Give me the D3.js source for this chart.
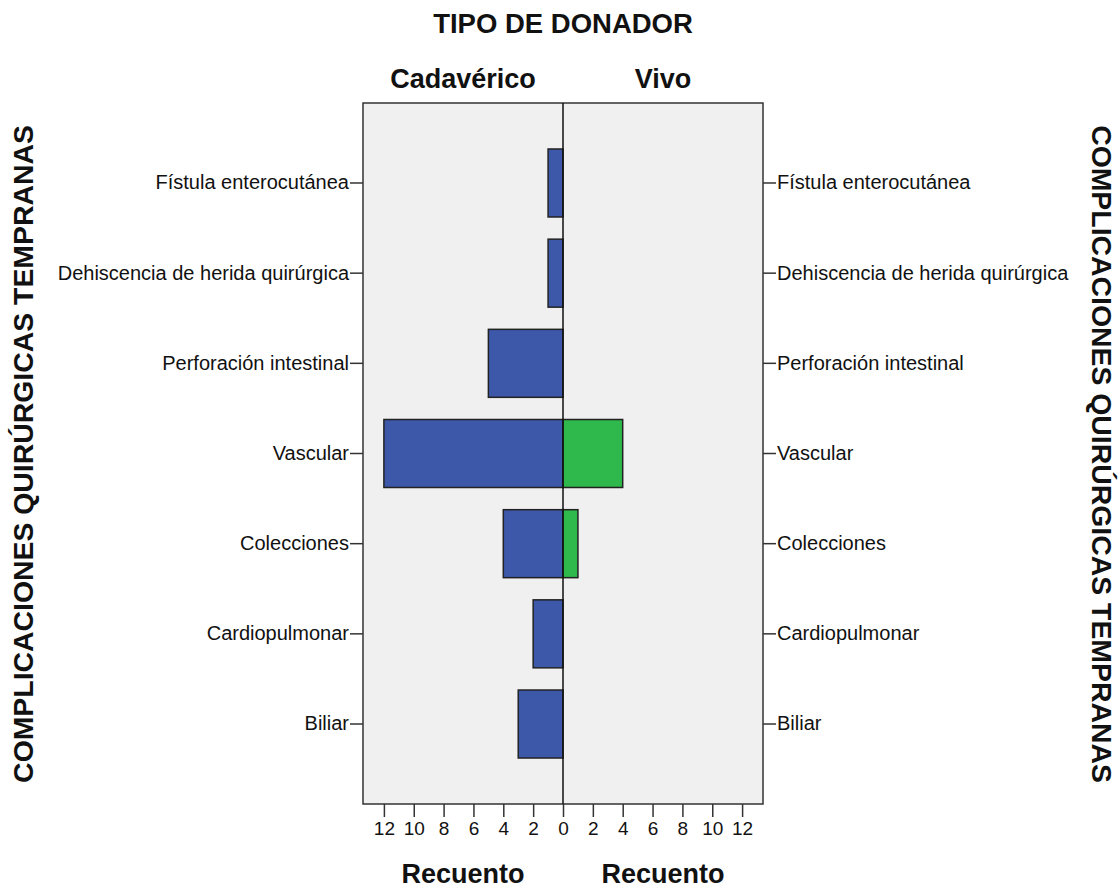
<!DOCTYPE html>
<html>
<head>
<meta charset="utf-8">
<script src="https://cdn.jsdelivr.net/npm/d3@7"></script>
<style>
  body { margin: 0; background: #fff; }
  svg text { font-family: "Liberation Sans", Arial, sans-serif; fill: #111; }
</style>
</head>
<body>
<div id="chart"></div>
<script>
const categories = [
  "Fístula enterocutánea",
  "Dehiscencia de herida quirúrgica",
  "Perforación intestinal",
  "Vascular",
  "Colecciones",
  "Cardiopulmonar",
  "Biliar"
];
const cadaverico = [1, 1, 5, 12, 4, 2, 3];
const vivo = [0, 0, 0, 4, 1, 0, 0];
const xTicks = [0, 2, 4, 6, 8, 10, 12];
const panels = ["Cadavérico", "Vivo"];

(function() {
  const width = 1118, height = 888;
  const center = 563, half = 200;
  const top = 103, bottom = 804;
  const blue = "#3D58A9", green = "#2FB84B";

  const svg = d3.select("#chart").append("svg")
    .attr("width", width)
    .attr("height", height);

  const xLeft = d3.scaleLinear().domain([0, 13.4]).range([center, center - half]);
  const xRight = d3.scaleLinear().domain([0, 13.4]).range([center, center + half]);
  const y = d3.scaleBand()
    .domain(categories)
    .range([top, bottom])
    .paddingInner(0.246)
    .paddingOuter(0.51);

  // plot background
  svg.append("rect")
    .attr("x", center - half).attr("y", top)
    .attr("width", half * 2).attr("height", bottom - top)
    .attr("fill", "#F0F0F0");

  // bars
  svg.selectAll(".bar-left")
    .data(categories.map((c, i) => ({ c, v: cadaverico[i] })).filter(d => d.v > 0))
    .enter().append("rect")
    .attr("class", "bar-left")
    .attr("x", d => xLeft(d.v))
    .attr("y", d => y(d.c))
    .attr("width", d => xLeft(0) - xLeft(d.v))
    .attr("height", y.bandwidth())
    .attr("fill", blue)
    .attr("stroke", "#222")
    .attr("stroke-width", 1.5);

  svg.selectAll(".bar-right")
    .data(categories.map((c, i) => ({ c, v: vivo[i] })).filter(d => d.v > 0))
    .enter().append("rect")
    .attr("class", "bar-right")
    .attr("x", xRight(0))
    .attr("y", d => y(d.c))
    .attr("width", d => xRight(d.v) - xRight(0))
    .attr("height", y.bandwidth())
    .attr("fill", green)
    .attr("stroke", "#222")
    .attr("stroke-width", 1.5);

  // frame + centre line
  svg.append("rect")
    .attr("x", center - half).attr("y", top)
    .attr("width", half * 2).attr("height", bottom - top)
    .attr("fill", "none")
    .attr("stroke", "#333")
    .attr("stroke-width", 1.5);
  svg.append("line")
    .attr("x1", center).attr("x2", center)
    .attr("y1", top).attr("y2", bottom)
    .attr("stroke", "#111")
    .attr("stroke-width", 1.5);

  // axes
  const styleAxis = g => {
    g.select(".domain").remove();
    g.selectAll(".tick line").attr("stroke", "#333").attr("stroke-width", 1.5);
    g.selectAll(".tick text").attr("fill", "#111");
  };

  svg.append("g")
    .attr("transform", `translate(0,${bottom})`)
    .call(d3.axisBottom(xLeft).tickValues(xTicks).tickSize(13).tickPadding(5).tickFormat(d3.format("d")))
    .call(styleAxis)
    .selectAll("text").style("font-size", "19px");

  svg.append("g")
    .attr("transform", `translate(0,${bottom})`)
    .call(d3.axisBottom(xRight).tickValues(xTicks.filter(d => d > 0)).tickSize(13).tickPadding(5).tickFormat(d3.format("d")))
    .call(styleAxis)
    .selectAll("text").style("font-size", "19px");

  svg.append("g")
    .attr("transform", `translate(${center - half},0)`)
    .call(d3.axisLeft(y).tickSize(13).tickPadding(1))
    .call(styleAxis)
    .selectAll("text").style("font-size", "20px");

  svg.append("g")
    .attr("transform", `translate(${center + half},0)`)
    .call(d3.axisRight(y).tickSize(13).tickPadding(1))
    .call(styleAxis)
    .selectAll("text").style("font-size", "20px");

  // titles
  svg.append("text")
    .attr("x", center).attr("y", 33)
    .attr("text-anchor", "middle")
    .style("font-size", "27.5px").style("font-weight", "bold")
    .text("TIPO DE DONADOR");

  svg.selectAll(".panel-title")
    .data(panels)
    .enter().append("text")
    .attr("class", "panel-title")
    .attr("x", (d, i) => center + (i === 0 ? -half / 2 : half / 2))
    .attr("y", 88)
    .attr("text-anchor", "middle")
    .style("font-size", "27px").style("font-weight", "bold")
    .text(d => d);

  svg.selectAll(".x-title")
    .data(panels)
    .enter().append("text")
    .attr("class", "x-title")
    .attr("x", (d, i) => center + (i === 0 ? -half / 2 : half / 2))
    .attr("y", 883)
    .attr("text-anchor", "middle")
    .style("font-size", "27px").style("font-weight", "bold")
    .text("Recuento");

  const midY = 454;
  svg.append("text")
    .attr("transform", `translate(33,${midY}) rotate(-90)`)
    .attr("text-anchor", "middle")
    .style("font-size", "28.4px").style("font-weight", "bold")
    .text("COMPLICACIONES QUIRÚRGICAS TEMPRANAS");

  svg.append("text")
    .attr("transform", `translate(1092,${midY}) rotate(90)`)
    .attr("text-anchor", "middle")
    .style("font-size", "28.4px").style("font-weight", "bold")
    .text("COMPLICACIONES QUIRÚRGICAS TEMPRANAS");
})();
</script>
</body>
</html>
